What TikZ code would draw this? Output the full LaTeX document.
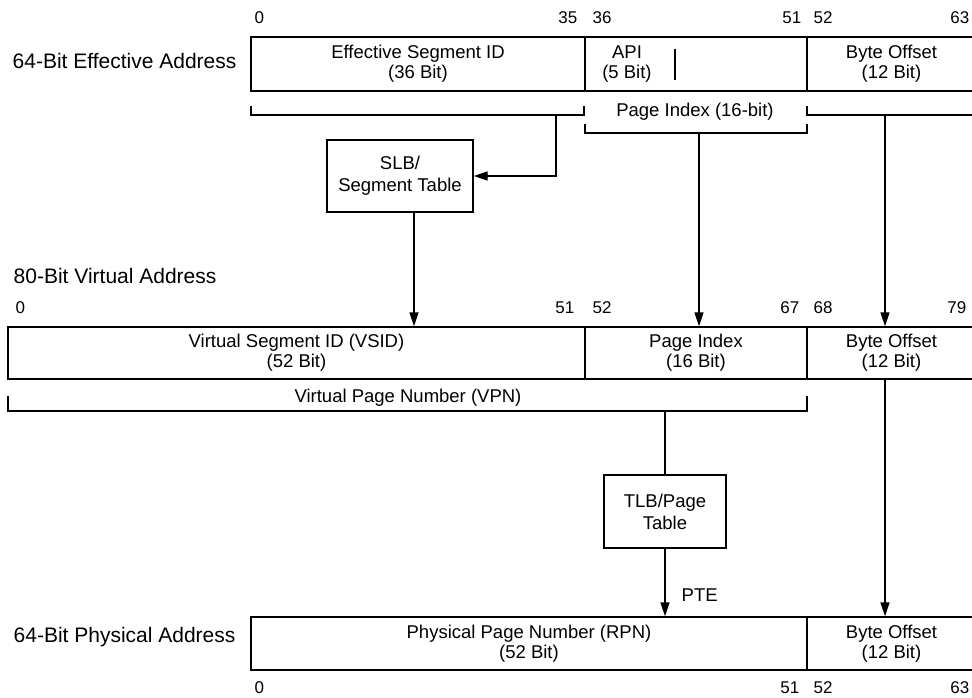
\documentclass[tikz,border=0pt]{standalone}
\usepackage{fontspec}
\setmainfont{Liberation Sans}
\usetikzlibrary{arrows.meta}
\newcommand\bxfont{\fontsize{18.5}{20}\selectfont}
\newcommand\tbfont{\fontsize{18.5}{22}\selectfont}
\newcommand\nmfont{\fontsize{17}{20}\selectfont}
\newcommand\lbfont{\fontsize{21}{24}\selectfont}
\begin{document}
\begin{tikzpicture}[x=1pt,y=-1pt, line width=1.4pt,
  field/.style={draw, rectangle, inner sep=0pt, align=center, font=\bxfont},
  tbl/.style={draw, rectangle, inner sep=0pt, align=center, font=\tbfont},
  num/.style={font=\nmfont, inner sep=0pt},
  lbl/.style={font=\lbfont, inner sep=0pt, anchor=base west},
  txt/.style={font=\bxfont, inner sep=0pt},
  arr/.style={-{Triangle[length=14pt,width=9pt]}},
  brk/.style={line width=1.4pt}
]
\useasboundingbox (0,0) rectangle (972,698);
\clip (0,0) rectangle (972,698);

% ---------- 64-bit effective address ----------
\node[lbl] (lea) at (12,69) {64-Bit Effective Address};
\node[num, anchor=base west] (n0a) at (254,24) {0};
\node[num, anchor=base east] (n35a) at (578,24) {35};
\node[num, anchor=base west] (n36a) at (592,24) {36};
\node[num, anchor=base east] (n51a) at (802,24) {51};
\node[num, anchor=base west] (n52a) at (813,24) {52};
\node[num, anchor=base east] (n63a) at (970,24) {63};

\node[field, minimum width=334pt, minimum height=54pt] (esid) at (418,64) {Effective Segment ID\\(36 Bit)};
\node[field, minimum width=222pt, minimum height=54pt] (api) at (696,64) {};
\node[txt, align=center] (apit) at (627,64) {API\\(5 Bit)};
\coordinate (apitop) at (675,49);
\coordinate (apibot) at (675,80);
\draw[line width=1.2pt] (apitop) -- (apibot);
\node[field, minimum width=169pt, minimum height=54pt] (bo1) at (891.5,64) {Byte Offset\\(12 Bit)};

% brackets
\draw[brk] (251,106) -- (251,115) -- (584,115) -- (584,106);
\draw[brk] (585,124) -- (585,133) -- (807,133) -- (807,124);
\draw[brk] (807,106) -- (807,115) -- (976,115);
\node[txt, anchor=base] (pit) at (695,117) {Page Index (16-bit)};

\coordinate (esidbr) at (556,115);
\coordinate (pibr) at (699,133);
\coordinate (bobr) at (885,115);

% SLB
\node[tbl, minimum width=146pt, minimum height=72pt] (slb) at (400,176) {SLB/\\Segment Table};
\draw[arr] (esidbr) |- (slb.east);

% ---------- 80-bit virtual address ----------
\node[lbl] (lva) at (13,283) {80-Bit Virtual Address};
\node[num, anchor=base west] (n0b) at (15,313) {0};
\node[num, anchor=base east] (n51b) at (575,313) {51};
\node[num, anchor=base west] (n52b) at (592,313) {52};
\node[num, anchor=base east] (n67b) at (800,313) {67};
\node[num, anchor=base west] (n68b) at (813,313) {68};
\node[num, anchor=base east] (n79b) at (967,313) {79};

\node[field, minimum width=577pt, minimum height=52pt] (vsid) at (296.5,353) {Virtual Segment ID (VSID)\\(52 Bit)};
\node[field, minimum width=222pt, minimum height=52pt] (pidx) at (696,353) {Page Index\\(16 Bit)};
\node[field, minimum width=169pt, minimum height=52pt] (bo2) at (891.5,353) {Byte Offset\\(12 Bit)};

\draw[arr] ([xshift=14pt]slb.south) -- ([xshift=14pt]slb.south |- vsid.north);
\draw[arr] (pibr) -- (pibr |- pidx.north);
\draw[arr] (bobr) -- (bobr |- bo2.north);

% VPN bracket
\draw[brk] (8,396) -- (8,411) -- (807,411) -- (807,396);
\node[txt, anchor=base] (vpnt) at (408,402) {Virtual Page Number (VPN)};
\coordinate (vpnbr) at (665,411);

% TLB
\node[tbl, minimum width=122pt, minimum height=73pt] (tlb) at (665,511.5) {TLB/Page\\Table};
\draw (vpnbr) -- (tlb.north);

% ---------- 64-bit physical address ----------
\node[lbl] (lpa) at (13,642) {64-Bit Physical Address};
\node[field, minimum width=556pt, minimum height=53pt] (rpn) at (529,643.5) {Physical Page Number (RPN)\\(52 Bit)};
\node[field, minimum width=169pt, minimum height=53pt] (bo3) at (891.5,643.5) {Byte Offset\\(12 Bit)};

\draw[arr] (tlb.south) -- (tlb.south |- rpn.north);
\node[txt, anchor=base west] (pte) at (681,601) {PTE};
\draw[arr] (bobr |- bo2.south) -- (bobr |- bo3.north);

\node[num, anchor=base west] (n0c) at (254,693) {0};
\node[num, anchor=base east] (n51c) at (800,693) {51};
\node[num, anchor=base west] (n52c) at (813,693) {52};
\node[num, anchor=base east] (n63c) at (970,693) {63};
\end{tikzpicture}
\end{document}
